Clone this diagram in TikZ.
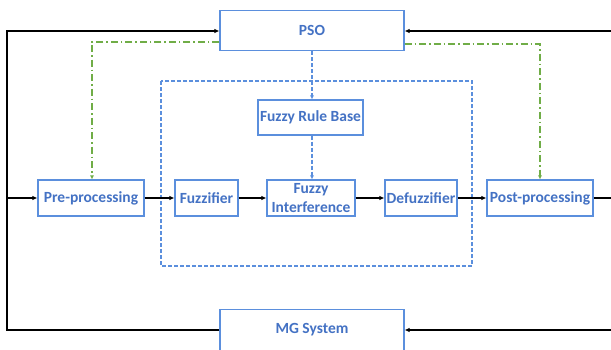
\documentclass[tikz,border=0pt]{standalone}
\usepackage{fontspec}
\setmainfont{Carlito}
\usetikzlibrary{arrows.meta}
\definecolor{boxblue}{HTML}{5B8FDD}
\definecolor{txtblue}{HTML}{4472C4}
\definecolor{linkgreen}{HTML}{70AD47}
\tikzset{
  blk/.style={draw=boxblue, line width=1.1pt, fill=white, text=txtblue,
    font=\bfseries\fontsize{15.5}{15}\selectfont, inner sep=0pt,
    minimum height=36pt, align=center},
  flow/.style={line width=1.3pt, -{Latex[length=5pt,width=4.5pt]}},
  wire/.style={line width=1.3pt},
  tune/.style={draw=linkgreen, line width=1.1pt,
    dash pattern=on 7pt off 3pt on 1.5pt off 3pt,
    -{Latex[length=4pt,width=4pt]}},
  ruledash/.style={draw=boxblue, line width=1.1pt,
    dash pattern=on 4pt off 2pt, -{Latex[length=4pt,width=4pt]}},
}
\begin{document}
\begin{tikzpicture}[x=1pt,y=-1pt]
\useasboundingbox (0,0) rectangle (611,349);

% fuzzy inference system enclosure
\draw[draw=boxblue, line width=1.1pt, dash pattern=on 4pt off 2pt]
  (161,81) rectangle (472,266);

% blocks
\node[blk, minimum width=184pt, minimum height=40pt] (pso) at (312,30.5) {PSO};
\node[blk, minimum width=105pt, minimum height=35pt] (frb) at (310.5,117.5) {Fuzzy Rule Base};
\node[blk, minimum width=106pt] (pre) at (91,198) {Pre-processing};
\node[blk, minimum width=63pt] (fuz) at (206.5,198) {Fuzzifier};
\node[blk, minimum width=88pt, font=\bfseries\fontsize{15.5}{18.5}\selectfont] (fin) at (311,198) {Fuzzy\\Interference};
\node[blk, minimum width=72pt] (def) at (421,198) {Defuzzifier};
\node[blk, minimum width=106pt] (post) at (540,198) {Post-processing};
\node[blk, minimum width=184pt, minimum height=41pt] (mg) at (312,330) {MG System};

% loop corners
\coordinate (lt) at (7,31);
\coordinate (lb) at (7,330);
\coordinate (rt) at (611,31);
\coordinate (rm) at (611,198);
\coordinate (rb) at (611,330);
\coordinate (gl) at (92,42);
\coordinate (gr) at (540,44);

% main signal path
\draw[flow] (pre) -- (fuz);
\draw[flow] (fuz) -- (fin);
\draw[flow] (fin) -- (def);
\draw[flow] (def) -- (post);
\draw[wire] (post) -- (rm);

% feedback loop through the MG system
\draw[flow] (rb) -- (mg.east);
\draw[flow] (mg.west) -- (lb) -- (lt) -- (pso.west |- lt);
\draw[flow] (lb |- pre) -- (pre.west);
\draw[flow] (rt) -- (pso.east |- rt);

% PSO tuning links
\draw[tune] (pso.west |- gl) -- (gl) -- (pre.north -| gl);
\draw[tune] (pso.east |- gr) -- (gr) -- (post.north);

% rule base path
\draw[ruledash] (pso.south) -- (pso.south |- frb.north);
\draw[ruledash] (pso.south |- frb.south) -- (pso.south |- fin.north);
\end{tikzpicture}
\end{document}
